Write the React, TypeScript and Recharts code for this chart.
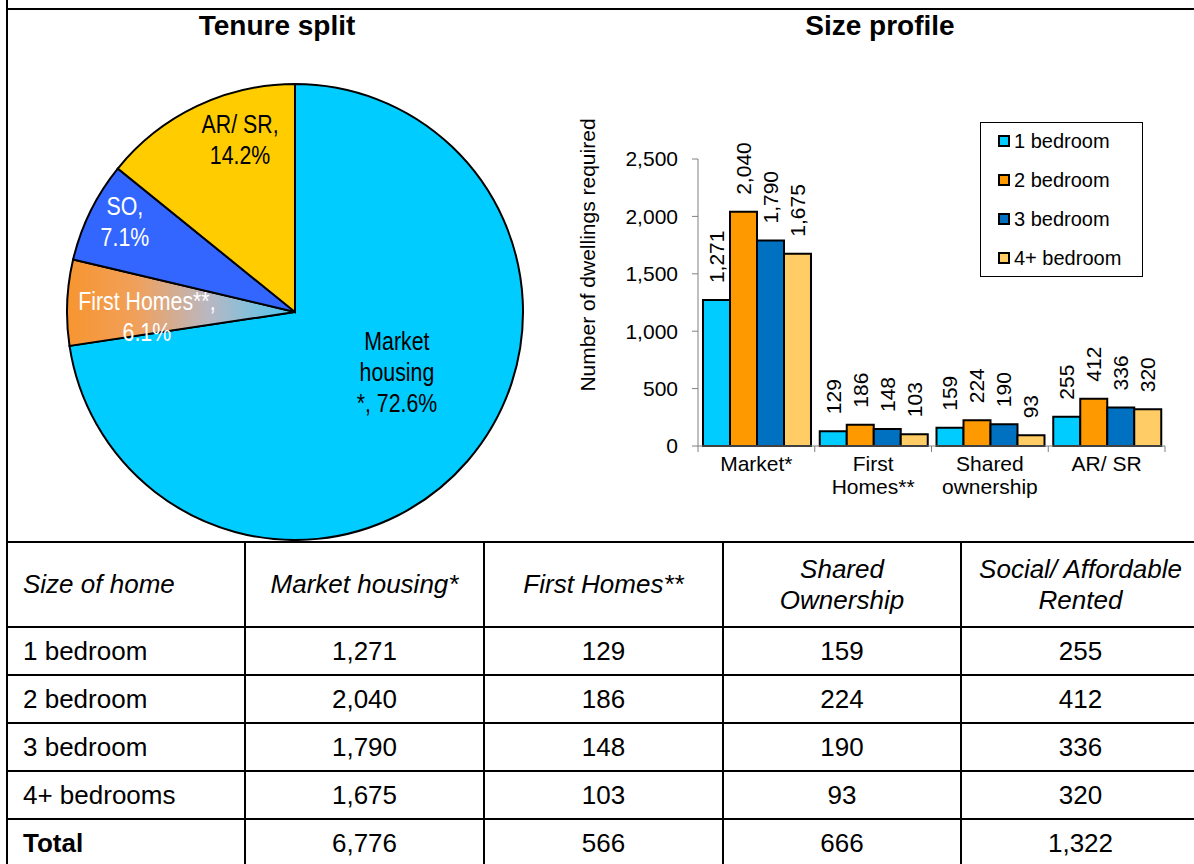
import { PieChart, Pie, Cell, BarChart, Bar, XAxis, YAxis, Legend, LabelList } from 'recharts';

// bar chart: dwellings by size, per tenure
const categories = ['Market*', 'First\nHomes**', 'Shared\nownership', 'AR/ SR'];
const oneBed = [1271, 129, 159, 255];
const twoBed = [2040, 186, 224, 412];
const threeBed = [1790, 148, 190, 336];
const fourBed = [1675, 103, 93, 320];
const seriesNames = ['1 bedroom', '2 bedroom', '3 bedroom', '4+ bedroom'];
const seriesColors = ['#00CCFF', '#FF9900', '#0070C0', '#FFCC66'];
const yTicks = [0, 500, 1000, 1500, 2000, 2500];

// pie: tenure split
const tenureNames = ['Market housing*', 'First Homes**', 'SO', 'AR/ SR'];
const tenureTotals = [6776, 566, 666, 1322];
const tenureLabels = ['Market\nhousing\n*, {p}', 'First Homes**,\n{p}', 'SO,\n{p}', 'AR/ SR,\n{p}'];

// table
const tableHeader = ['Size of home', 'Market housing*', 'First Homes**', 'Shared\nOwnership', 'Social/ Affordable\nRented'];
const sizeRows = ['1 bedroom', '2 bedroom', '3 bedroom', '4+ bedrooms'];

// styling
const pieColors = ['#00CCFF', 'url(#fhGrad)', '#3366FF', '#FFCC00'];
const pieTextColors = ['#000', '#fff', '#fff', '#000'];
const labelRadius = [0.518, 0.65, 0.846, 0.792];
const labelShift = [10.4, 4.3, -2.0, -7.8];

const CHART_W = 624;
const MARGIN = { top: 49, right: 29, left: 0, bottom: 0 };
const Y_W = 128;
const BAND = (CHART_W - MARGIN.left - MARGIN.right - Y_W) / categories.length;

const fmt = (v: number) => v.toLocaleString('en-US');

const barData = categories.map((cat, i) => ({
  cat,
  b1: oneBed[i],
  b2: twoBed[i],
  b3: threeBed[i],
  b4: fourBed[i],
}));

const tenureSum = tenureTotals.reduce((a, b) => a + b, 0);
const pieData = tenureNames.map((name, i) => ({ name, value: tenureTotals[i] }));

const RAD = Math.PI / 180;

// Excel uses a narrow face for the slice labels
const renderPieLabel = (props: any) => {
  const { cx, cy, midAngle, outerRadius, index, value } = props;
  const ang = (midAngle + labelShift[index]) * RAD;
  const r = outerRadius * labelRadius[index];
  const x = Number(cx) + r * Math.cos(ang);
  const y = Number(cy) - r * Math.sin(ang);
  const pct = ((value / tenureSum) * 100).toFixed(1) + '%';
  const lines = tenureLabels[index].replace('{p}', pct).split('\n');
  const lh = 31;
  const top = y - ((lines.length - 1) * lh) / 2;
  return (
    <g transform={`translate(${x} 0) scale(0.82 1) translate(${-x} 0)`}>
      <text x={x} y={top} textAnchor="middle" fill={pieTextColors[index]} fontSize={26}>
        {lines.map((l, i) => (
          <tspan key={i} x={x} y={top + i * lh + 9}>{l}</tspan>
        ))}
      </text>
    </g>
  );
};

const CatTick = (props: any) => {
  const { x, y, payload, index } = props;
  const lines = String(payload.value).split('\n');
  const half = BAND / 2;
  return (
    <g>
      <line x1={x - half} x2={x - half} y1={y} y2={y + 6} stroke="#808080" />
      {index === categories.length - 1 && (
        <line x1={x + half} x2={x + half} y1={y} y2={y + 6} stroke="#808080" />
      )}
      <text x={x} textAnchor="middle" fontSize={21} fill="#000">
        {lines.map((l, i) => (
          <tspan key={i} x={x} y={y + 24.5 + i * 23.5}>{l}</tspan>
        ))}
      </text>
    </g>
  );
};

const BarValueLabel = (props: any) => {
  const { x, y, width, value } = props;
  const cx = Number(x) + Number(width) / 2;
  const cy = Number(y) - 17;
  return (
    <text
      x={cx}
      y={cy + 7.5}
      transform={`rotate(-90 ${cx} ${cy})`}
      textAnchor="start"
      fontSize={21}
      fill="#000"
    >
      {fmt(Number(value))}
    </text>
  );
};

const YLabel = (props: any) => {
  const vb = props.viewBox || { x: 0, y: MARGIN.top };
  const x = vb.x + 18;
  const y = vb.y + 96;
  return (
    <text
      x={x}
      y={y + 7}
      transform={`rotate(-90 ${x} ${y})`}
      textAnchor="middle"
      fontSize={21}
      fill="#000"
    >
      Number of dwellings required
    </text>
  );
};

const renderLegend = (props: any) => {
  const { payload } = props;
  return (
    <div
      style={{
        border: '1px solid #000',
        width: 163,
        height: 155,
        boxSizing: 'border-box',
        background: '#fff',
      }}
    >
      <div style={{ marginTop: -2 }}>
        {(payload || []).map((entry: any, i: number) => (
          <div key={i} style={{ display: 'flex', alignItems: 'center', height: 39, paddingLeft: 17 }}>
            <span
              style={{
                width: 8,
                height: 8,
                border: '2px solid #000',
                background: entry.color,
                marginRight: 4,
                display: 'inline-block',
              }}
            />
            <span style={{ fontSize: 20, color: '#000', lineHeight: '20px' }}>{entry.value}</span>
          </div>
        ))}
      </div>
    </div>
  );
};

const colX = [7, 245, 484, 723, 961, 1200];
const rowY = [542, 627, 675, 723, 771, 819, 867];

export default function App() {
  const rows: string[][] = [
    tableHeader,
    ...sizeRows.map((name, r) => {
      const series = [oneBed, twoBed, threeBed, fourBed][r];
      return [name, ...series.map(fmt)];
    }),
    ['Total', ...tenureTotals.map(fmt)],
  ];

  return (
    <div
      style={{
        position: 'absolute',
        left: 0,
        top: 0,
        width: 1194,
        height: 864,
        background: '#fff',
        overflow: 'hidden',
        fontFamily: '"Liberation Sans", Arial, sans-serif',
        color: '#000',
      }}
    >
      {/* frame */}
      <div style={{ position: 'absolute', left: 6, top: 8, width: 1200, height: 2, background: '#000' }} />
      <div style={{ position: 'absolute', left: 6, top: 0, width: 2, height: 864, background: '#000' }} />

      <div style={{ position: 'absolute', left: 0, top: 10, width: 554, height: 32, lineHeight: '32px', textAlign: 'center', fontSize: 28, fontWeight: 'bold' }}>
        Tenure split
      </div>
      <div style={{ position: 'absolute', left: 680, top: 10, width: 400, height: 32, lineHeight: '32px', textAlign: 'center', fontSize: 28, fontWeight: 'bold' }}>
        Size profile
      </div>

      <div style={{ position: 'absolute', left: 0, top: 0 }}>
        <PieChart width={590} height={541} margin={{ top: 0, right: 0, bottom: 0, left: 0 }}>
          <defs>
            <linearGradient id="fhGrad" x1="0" y1="0" x2="1" y2="0">
              <stop offset="0%" stopColor="#F7952F" />
              <stop offset="30%" stopColor="#F1A05A" />
              <stop offset="62%" stopColor="#B9B7C2" />
              <stop offset="100%" stopColor="#4CC8F4" />
            </linearGradient>
          </defs>
          <Pie
            data={pieData}
            dataKey="value"
            nameKey="name"
            cx={295}
            cy={312}
            outerRadius={228}
            startAngle={90}
            endAngle={-270}
            stroke="#000"
            strokeWidth={2}
            label={renderPieLabel}
            labelLine={false}
            isAnimationActive={false}
          >
            {pieData.map((_, i) => (
              <Cell key={i} fill={pieColors[i]} />
            ))}
          </Pie>
        </PieChart>
      </div>

      <div style={{ position: 'absolute', left: 570, top: 110 }}>
        <BarChart
          width={CHART_W}
          height={396}
          data={barData}
          margin={MARGIN}
          barCategoryGap={5}
          barGap={0}
        >
          <XAxis
            dataKey="cat"
            interval={0}
            height={60}
            tickSize={0}
            tickMargin={0}
            tickLine={false}
            axisLine={{ stroke: '#808080' }}
            tick={(p: any) => <CatTick {...p} />}
          />
          <YAxis
            width={Y_W}
            domain={[0, 2500]}
            ticks={yTicks}
            interval={0}
            tickFormatter={fmt}
            tickSize={6}
            tickMargin={14}
            axisLine={{ stroke: '#808080' }}
            tickLine={{ stroke: '#808080' }}
            tick={{ fontSize: 21, fill: '#000' }}
            label={<YLabel />}
          />
          <Legend
            layout="vertical"
            align="center"
            verticalAlign="middle"
            content={renderLegend}
            wrapperStyle={{ left: 410, top: 12, right: 'auto', bottom: 'auto', width: 163 }}
          />
          {['b1', 'b2', 'b3', 'b4'].map((key, i) => (
            <Bar
              key={key}
              dataKey={key}
              name={seriesNames[i]}
              fill={seriesColors[i]}
              stroke="#000"
              strokeWidth={2}
              isAnimationActive={false}
            >
              <LabelList dataKey={key} content={BarValueLabel} />
            </Bar>
          ))}
        </BarChart>
      </div>

      {/* table */}
      {rows.map((row, r) =>
        row.map((cell, c) => {
          const lines = cell.split('\n');
          return (
            <div
              key={`${r}-${c}`}
              style={{
                position: 'absolute',
                left: colX[c] - 1,
                top: rowY[r] - 1,
                width: colX[c + 1] - colX[c] + 2,
                height: rowY[r + 1] - rowY[r] + 2,
                boxSizing: 'border-box',
                border: '2px solid #000',
                display: 'flex',
                flexDirection: 'column',
                justifyContent: 'center',
                alignItems: c === 0 ? 'flex-start' : 'center',
                paddingLeft: c === 0 ? 15 : 0,
                fontSize: 26,
                lineHeight: '31px',
                fontStyle: r === 0 ? 'italic' : 'normal',
                fontWeight: r === rows.length - 1 && c === 0 ? 'bold' : 'normal',
                textAlign: 'center',
              }}
            >
              {lines.map((l, i) => (
                <span key={i}>{l}</span>
              ))}
            </div>
          );
        })
      )}
    </div>
  );
}
